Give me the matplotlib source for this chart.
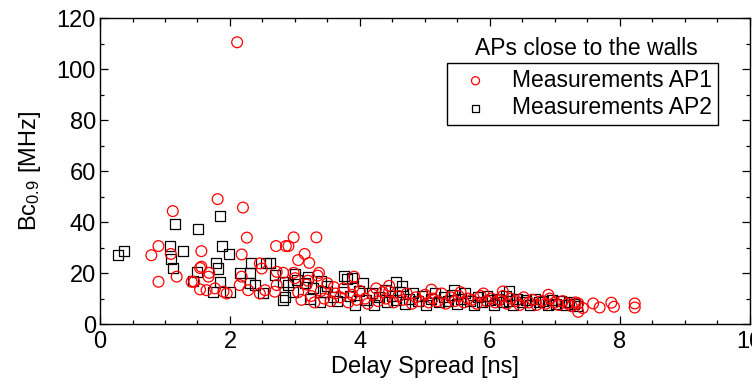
import matplotlib
matplotlib.use("Agg")
import matplotlib.pyplot as plt
from matplotlib.ticker import MultipleLocator

plt.rcParams["font.family"] = ["Liberation Sans", "DejaVu Sans"]
plt.rcParams["mathtext.fontset"] = "custom"
plt.rcParams["mathtext.rm"] = "Liberation Sans"
plt.rcParams["mathtext.it"] = "Liberation Sans"

# Measurements AP1 (red circles): delay spread [ns], coherence bandwidth [MHz]
ap1_ds = [
    0.79, 0.90, 0.90, 1.09, 1.12, 1.18, 1.41, 1.45, 1.54, 1.54, 1.56, 1.56,
    1.64, 1.67, 1.68, 1.77, 1.81, 1.90, 1.95, 2.11, 2.15, 2.18, 2.18, 2.20,
    2.26, 2.28, 2.46, 2.46, 2.49, 2.54, 2.69, 2.71, 2.72, 2.72, 2.82, 2.86,
    2.90, 2.98, 2.98, 3.05, 3.15, 3.22, 3.33, 3.37, 3.91,
    3.00, 3.20, 3.35, 3.60, 4.25, 3.90, 4.45, 5.10, 6.20, 6.90, 5.55,
    3.05, 3.10, 3.18, 3.25, 3.30, 3.40, 3.45, 3.50, 3.55, 3.62, 3.70, 3.75,
    3.82, 3.88, 3.95, 4.00, 4.08, 4.12, 4.20, 4.28, 4.35, 4.40, 4.45, 4.52,
    4.60, 4.66, 4.72, 4.80, 4.86, 4.92, 5.00, 5.06, 5.12, 5.20, 5.26, 5.32,
    5.40, 5.46, 5.52, 5.60, 5.66, 5.72, 5.80, 5.86, 5.90, 5.95, 6.02, 6.08,
    6.15, 6.20, 6.26, 6.32, 6.40, 6.46, 6.52, 6.60, 6.66, 6.72, 6.80, 6.86,
    6.92, 7.00, 7.06, 7.12, 7.20, 7.26, 7.32, 7.36, 7.36, 7.43, 7.59, 7.69,
    7.87, 7.91, 8.23, 8.23,
]
ap1_bc = [
    27.0, 30.6, 16.6, 27.5, 44.3, 18.6, 16.6, 16.6, 22.0, 13.6, 28.6, 22.5,
    13.3, 18.6, 20.1, 14.0, 49.0, 12.7, 12.0, 110.5, 15.3, 18.6, 27.3, 45.7,
    33.9, 13.3, 12.0, 23.8, 21.8, 13.3, 12.7, 30.6, 20.5, 15.3, 20.1, 30.6,
    30.6, 34.0, 20.1, 25.1, 27.5, 24.0, 34.0, 20.1, 18.6,
    18.0, 17.0, 19.0, 14.5, 14.0, 14.5, 12.8, 13.5, 12.8, 11.5, 12.5,
    12.5, 9.5, 15.5, 11.0, 8.5, 13.0, 10.0, 16.0, 9.0, 12.0, 10.5, 14.0,
    8.5, 11.5, 9.5, 13.0, 10.0, 8.0, 11.5, 9.0, 12.5, 10.0, 15.0, 8.5,
    11.0, 9.5, 12.0, 8.0, 10.5, 9.0, 11.5, 8.5, 10.0, 9.0, 12.0, 8.0,
    10.5, 9.0, 11.0, 8.5, 10.0, 9.5, 8.0, 11.0, 12.0, 9.0, 10.0, 8.5,
    9.5, 11.0, 8.0, 10.0, 9.0, 7.5, 10.5, 8.5, 9.5, 7.5, 9.0, 8.0,
    10.0, 8.5, 7.5, 9.0, 8.0, 7.0, 8.5, 8.1, 4.8, 6.3, 8.1, 6.5,
    8.4, 6.8, 8.1, 6.5,
]

# Measurements AP2 (black squares)
ap2_ds = [
    0.28, 0.37, 1.08, 1.09, 1.13, 1.16, 1.27, 1.43, 1.49, 1.51, 1.74, 1.78,
    1.81, 1.84, 1.85, 1.87, 1.99, 2.00, 2.15, 2.31, 2.31, 2.33, 2.38, 2.51,
    2.55, 2.62, 2.69, 2.82, 2.82,
    3.00, 3.20, 3.40, 3.75, 3.88, 4.55, 4.65, 5.45, 6.30, 2.90,
    3.03, 3.15, 3.28, 3.46, 3.59, 3.74, 2.85, 2.97, 3.23, 3.38, 3.50, 3.65,
    3.80, 3.85, 3.92, 3.98, 4.05, 4.10, 4.18, 4.22, 4.30, 4.38, 4.42, 4.50,
    4.56, 4.62, 4.70, 4.76, 4.82, 4.90, 4.96, 5.02, 5.10, 5.16, 5.22, 5.30,
    5.36, 5.42, 5.50, 5.56, 5.62, 5.70, 5.76, 5.82, 5.88, 5.96, 6.00, 6.06,
    6.12, 6.18, 6.25, 6.30, 6.36, 6.42, 6.50, 6.56, 6.62, 6.70, 6.76, 6.82,
    6.90, 6.96, 7.02, 7.10, 7.16, 7.22, 7.30, 7.34,
]
ap2_bc = [
    27.1, 28.6, 30.6, 25.5, 22.0, 39.2, 28.6, 17.0, 20.4, 37.3, 12.7, 24.0,
    21.8, 42.5, 16.6, 30.6, 27.3, 12.7, 19.9, 19.9, 16.0, 23.8, 15.3, 12.0,
    23.8, 23.8, 19.2, 16.6, 9.4,
    19.5, 18.5, 17.0, 19.0, 18.0, 16.5, 15.0, 13.5, 13.0, 15.5,
    17.3, 16.0, 14.0, 12.7, 10.7, 12.7, 10.7, 12.7, 10.0, 8.8, 15.0, 9.0,
    17.5, 11.0, 7.5, 13.0, 16.0, 9.5, 12.0, 7.5, 10.5, 13.5, 8.5, 11.0,
    9.5, 12.5, 8.0, 10.0, 12.0, 9.0, 11.0, 7.5, 10.0, 12.0, 8.5, 10.5,
    9.0, 11.5, 8.0, 10.0, 12.0, 9.0, 7.5, 10.5, 8.5, 11.0, 9.5, 7.5,
    10.0, 8.5, 11.0, 9.0, 7.5, 10.0, 8.5, 9.5, 7.5, 10.0, 8.5, 9.0,
    7.5, 9.5, 8.0, 9.0, 7.5, 8.5, 8.0, 7.0,
]

fig = plt.figure(figsize=(7.52, 3.84), dpi=100)
ax = fig.add_axes([0.133, 0.156, 0.864, 0.797])

ax.scatter(ap2_ds, ap2_bc, s=52, marker="s", facecolors="none",
           edgecolors="black", linewidths=0.9, label="Measurements AP2", zorder=2)
ax.scatter(ap1_ds, ap1_bc, s=60, marker="o", facecolors="none",
           edgecolors="red", linewidths=0.9, label="Measurements AP1", zorder=3)

ax.set_xlim(0, 10)
ax.set_ylim(0, 120)
ax.xaxis.set_major_locator(MultipleLocator(2))
ax.xaxis.set_minor_locator(MultipleLocator(0.5))
ax.yaxis.set_major_locator(MultipleLocator(20))
ax.yaxis.set_minor_locator(MultipleLocator(10))
ax.tick_params(which="both", direction="in", top=True, right=True,
               labelsize=17, width=0.9)
ax.tick_params(which="major", length=6)
ax.tick_params(axis="x", which="major", pad=5)
ax.tick_params(axis="y", which="major", pad=3)
ax.tick_params(which="minor", length=3)
for sp in ax.spines.values():
    sp.set_linewidth(1.0)

ax.set_xlabel("Delay Spread [ns]", fontsize=17, labelpad=2)
ax.set_ylabel("Bc$_{0.9}$ [MHz]", fontsize=17, labelpad=10)

handles, labels = ax.get_legend_handles_labels()
leg = ax.legend(handles[::-1], labels[::-1], loc="upper right",
                bbox_to_anchor=(0.951, 0.853), fontsize=16.5, frameon=True,
                fancybox=False, edgecolor="black", framealpha=1,
                markerscale=0.75, handletextpad=0.6, borderpad=0.25,
                borderaxespad=0, labelspacing=0.2)
leg.get_frame().set_linewidth(1.0)
ax.text(0.748, 0.902, "APs close to the walls", transform=ax.transAxes,
        fontsize=16.5, ha="center", va="center")

fig.savefig("out.png", dpi=100)
